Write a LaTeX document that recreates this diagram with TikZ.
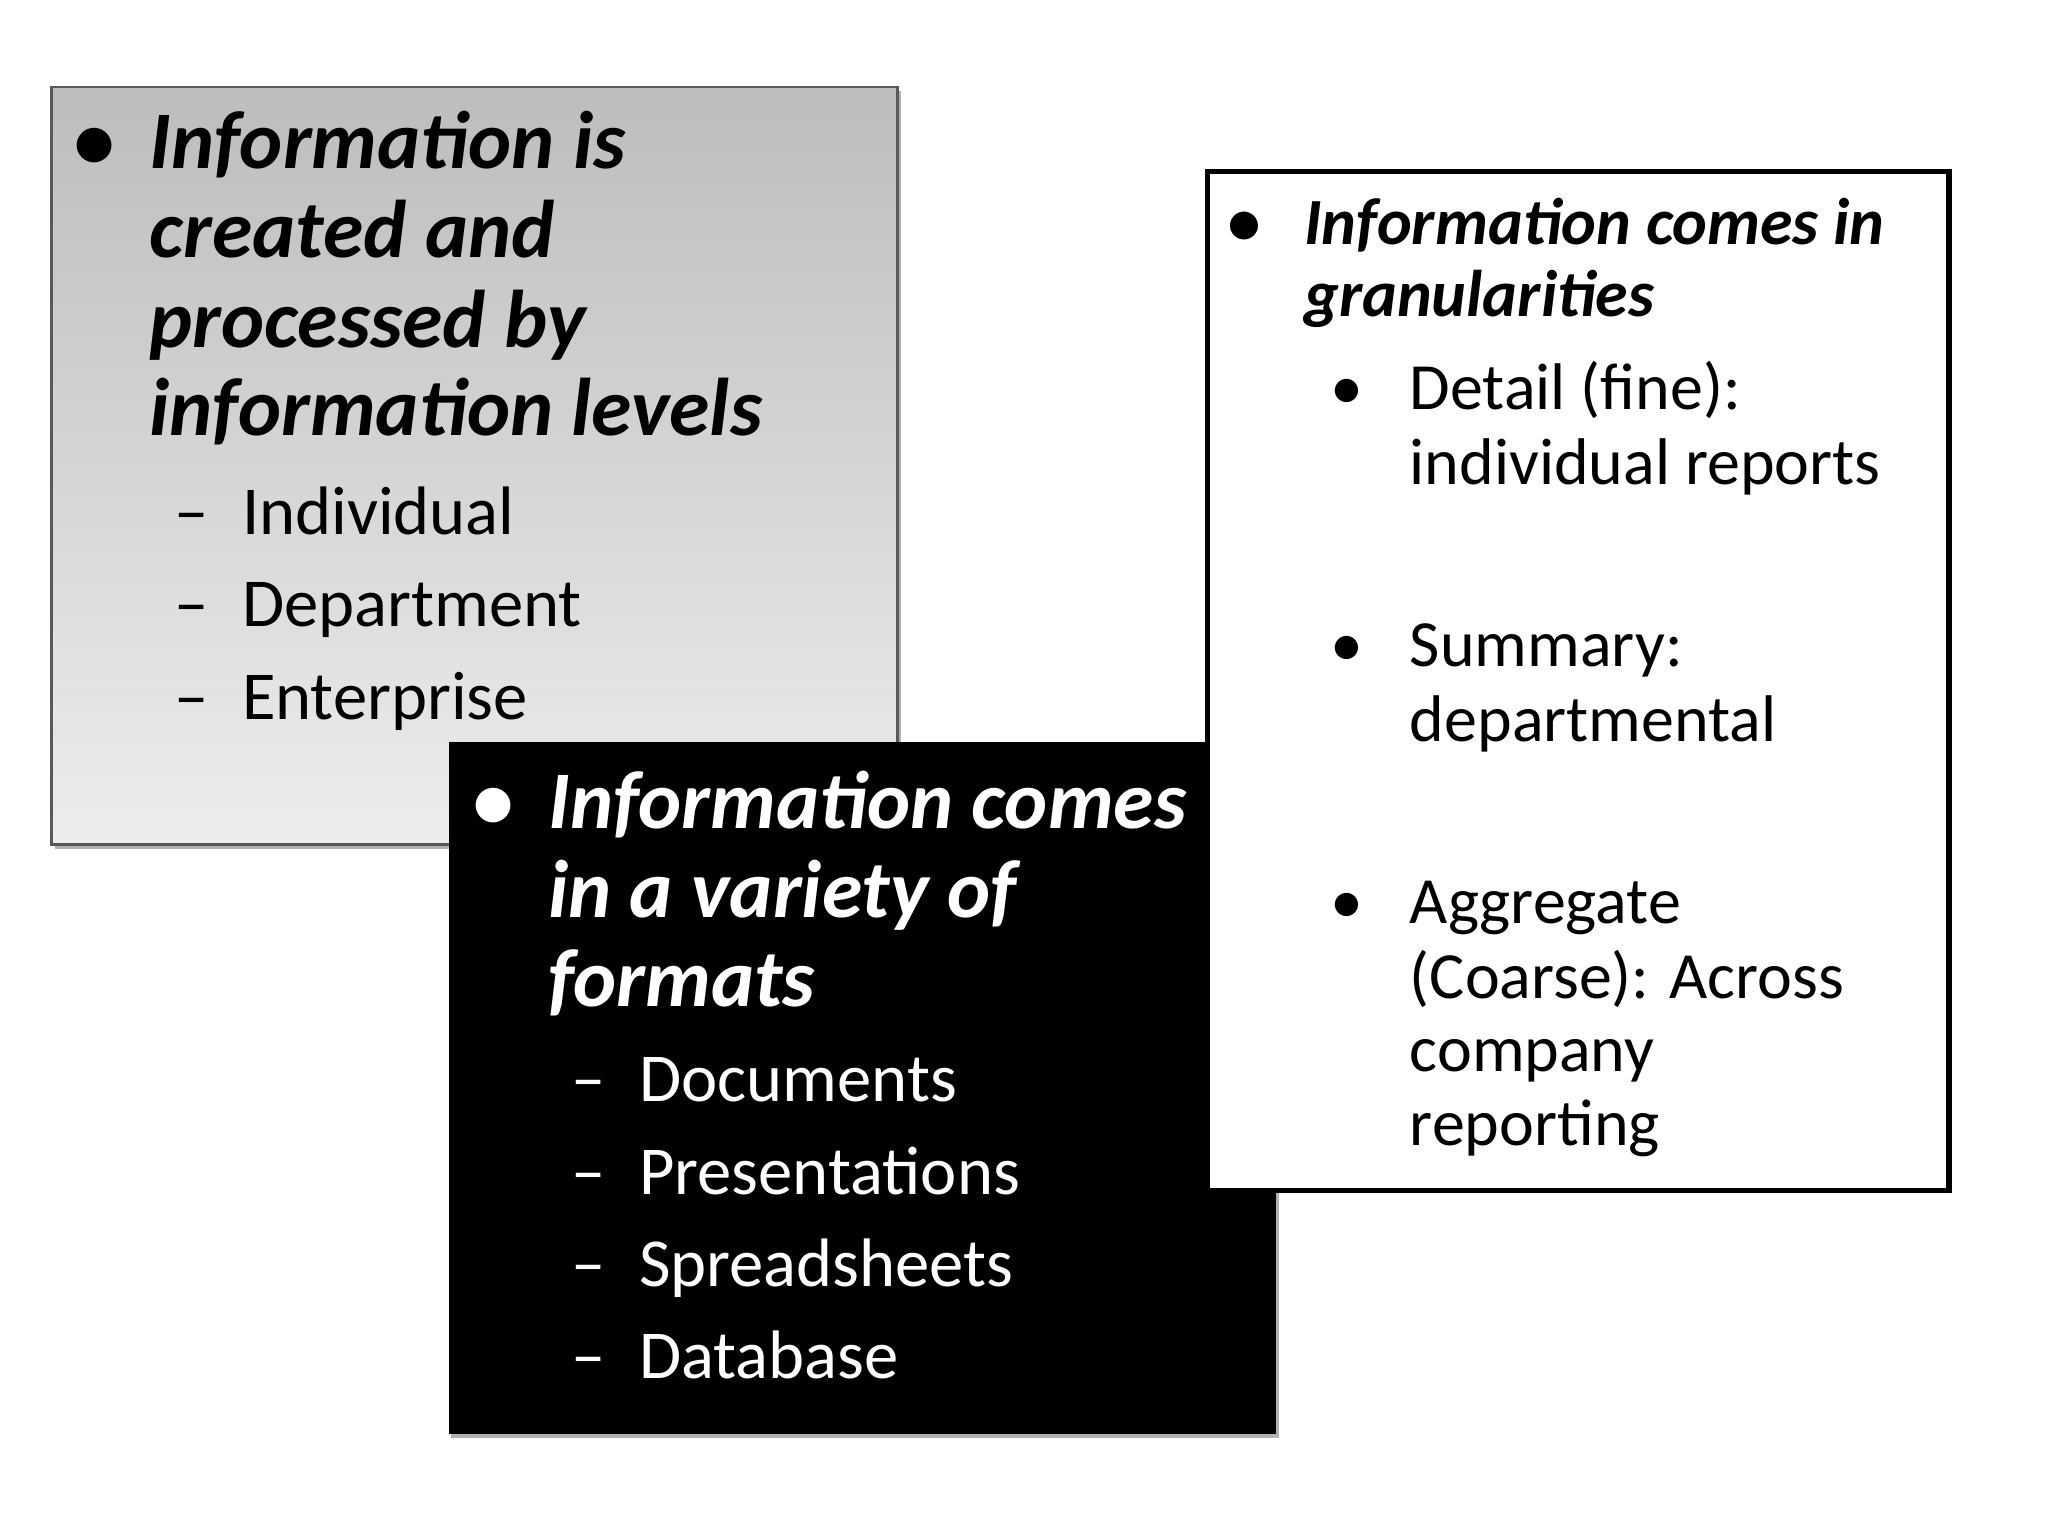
\documentclass[tikz,border=0pt]{standalone}
\usepackage{fontspec}
\setmainfont{Carlito}
\usetikzlibrary{shadows}
\begin{document}
\begin{tikzpicture}[x=0.5pt,y=-0.5pt,
  t/.style={anchor=base west,inner sep=0pt},
  h1/.style={t,font=\fontsize{31}{31}\selectfont\bfseries\itshape},
  s1/.style={t,font=\fontsize{26}{26}\selectfont},
  h3/.style={t,font=\fontsize{25}{25}\selectfont\bfseries\itshape},
  s3/.style={t,font=\fontsize{25}{25}\selectfont}]
\useasboundingbox (0,0) rectangle (1552,1164);
% box 1
\fill[gray!60] (42,69) rectangle (683,643);
\shade[top color=gray!52,bottom color=gray!14,draw=gray!70!black,line width=1pt] (39,66) rectangle (680,640);
\node[h1] (b1) at (55,128) {•};
\node[h1] (a1) at (113,128) {Information is};
\node[h1] (a2) at (113,195) {created and};
\node[h1] (a3) at (113,263) {processed by};
\node[h1] (a4) at (113,330) {information levels};
\foreach \y/\s [count=\i] in {405/Individual,475/Department,545/Enterprise}{
  \node[s1] (d\i) at (132,\y) {–};
  \node[s1] (e\i) at (183,\y) {\s};}
% box 2
\fill[gray!60] (342,565) rectangle (969,1090);
\fill[black] (340,562) rectangle (967,1087);
\begin{scope}[every node/.append style={text=white}]
\node[h1] (b2) at (358,628) {•};
\node[h1] (f1) at (415,628) {Information comes};
\node[h1] (f2) at (415,695) {in a variety of};
\node[h1] (f3) at (415,763) {formats};
\foreach \y/\s [count=\i] in {835/Documents,905/Presentations,975/Spreadsheets,1045/Database}{
  \node[s1] (g\i) at (433,\y) {–};
  \node[s1] (k\i) at (484,\y) {\s};}
\end{scope}
% box 3
\draw[fill=white,line width=2pt] (915,130) rectangle (1477,902);
\node[h3] (b3) at (930,185) {•};
\node[h3] (m1) at (988,185) {Information comes in};
\node[h3] (m2) at (988,240) {granularities};
\foreach \y in {310,505,700}{\node[s3] at (1008,\y) {•};}
\node[s3] (n1) at (1068,310) {Detail (fine):};
\node[s3] (n2) at (1068,367) {individual reports};
\node[s3] (n3) at (1068,505) {Summary:};
\node[s3] (n4) at (1068,562) {departmental};
\node[s3] (n5) at (1068,700) {Aggregate};
\node[s3] (n6) at (1068,757) {(Coarse): Across};
\node[s3] (n7) at (1068,812) {company};
\node[s3] (n8) at (1068,868) {reporting};
\end{tikzpicture}
\end{document}
